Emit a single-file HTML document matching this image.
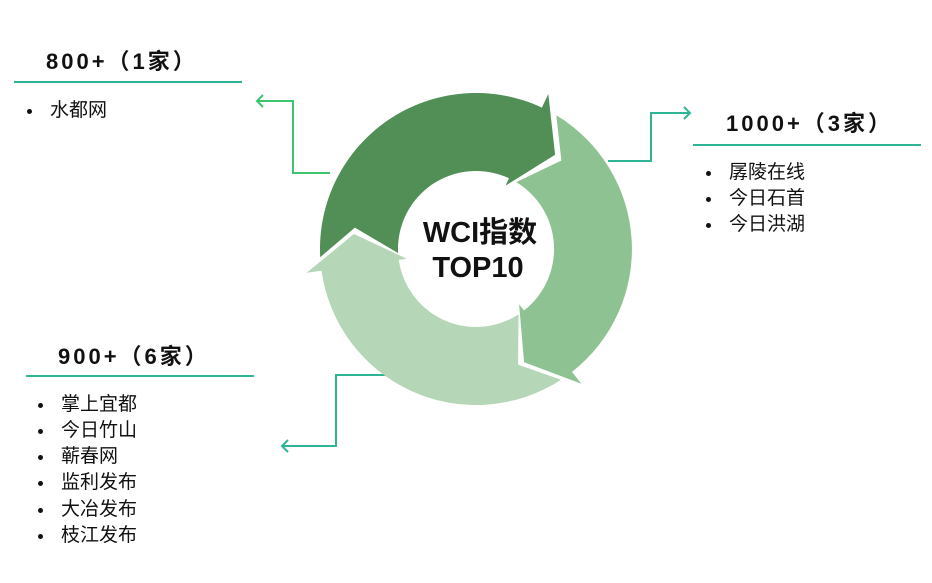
<!DOCTYPE html>
<html><head><meta charset="utf-8"><style>
body{margin:0;width:932px;height:583px;background:#fff;position:relative;overflow:hidden;font-family:"Liberation Sans","Noto Sans CJK SC",sans-serif;}
.h{position:absolute;font-weight:bold;font-size:22px;letter-spacing:3px;color:#111;white-space:nowrap;}
.ln{position:absolute;height:2px;background:#2fb596;}
.it{position:absolute;font-size:19px;color:#111;white-space:nowrap;line-height:20px;}
.it b{position:absolute;left:-23px;top:8px;width:5px;height:5px;border-radius:50%;background:#111;}
svg{position:absolute;left:0;top:0;}
</style></head><body>
<svg id="s" width="932" height="583" viewBox="0 0 932 583">
<g fill="none" stroke-width="2">
<polyline points="330,173 293,173 293,101 257,101" stroke="#3cc46e"/>
<polyline points="263,95 257,101 263,107" stroke="#3cc46e"/>
<polyline points="608,161 651,161 651,113 690,113" stroke="#2fb596"/>
<polyline points="684,107 690,113 684,119" stroke="#2fb596"/>
<polyline points="392,375 336,375 336,446 282,446" stroke="#2fb596"/>
<polyline points="288,440 282,446 288,452" stroke="#2fb596"/>
</g>
<g id="arr"></g>
<text x="480" y="242" text-anchor="middle" font-family="Liberation Sans,Noto Sans CJK SC,sans-serif" font-weight="bold" font-size="29" fill="#111">WCI指数</text>
<text x="478" y="277" text-anchor="middle" font-family="Liberation Sans,Noto Sans CJK SC,sans-serif" font-weight="bold" font-size="29" fill="#111">TOP10</text>
</svg>
<script>
(function(){
var cx=476,cy=249,r1=78,r2=156,rm=117;
function P(r,a){a=a*Math.PI/180;return (cx+r*Math.cos(a)).toFixed(1)+","+(cy+r*Math.sin(a)).toFixed(1);}
function arrow(a0,a1,col){
 var span=((a1-a0)+360)%360;var lf=span>180?1:0;
 var d="M"+P(r2,a0)+" A"+r2+","+r2+" 0 "+lf+" 1 "+P(r2,a1)+" L"+P(r2+15,a1)+" L"+P(rm+6,a1+15)+" L"+P(r1-8,a1)+" L"+P(r1,a1)+" A"+r1+","+r1+" 0 "+lf+" 0 "+P(r1,a0)+" L"+P(rm+6,a0+13)+" Z";
 return '<path d="'+d+'" fill="'+col+'"/>';
}
document.getElementById("arr").innerHTML=arrow(301,52,"#8fc293")+arrow(57,172,"#b5d6b7")+arrow(177,295,"#528f57");
})();
</script>
<div class="h" style="left:46px;top:44px;">800+（1家）</div>
<div class="ln" style="left:14px;top:81px;width:228px;"></div>
<div class="it" style="left:50px;top:101px;"><b></b>水都网</div>

<div class="h" style="left:726px;top:106px;">1000+（3家）</div>
<div class="ln" style="left:693px;top:144px;width:228px;"></div>
<div class="it" style="left:729px;top:163px;"><b></b>孱陵在线</div>
<div class="it" style="left:729px;top:189px;"><b></b>今日石首</div>
<div class="it" style="left:729px;top:215px;"><b></b>今日洪湖</div>

<div class="h" style="left:58px;top:339px;">900+（6家）</div>
<div class="ln" style="left:26px;top:375px;width:228px;"></div>
<div class="it" style="left:61px;top:395px;"><b></b>掌上宜都</div>
<div class="it" style="left:61px;top:421px;"><b></b>今日竹山</div>
<div class="it" style="left:61px;top:447px;"><b></b>蕲春网</div>
<div class="it" style="left:61px;top:473px;"><b></b>监利发布</div>
<div class="it" style="left:61px;top:500px;"><b></b>大冶发布</div>
<div class="it" style="left:61px;top:526px;"><b></b>枝江发布</div>
</body></html>
